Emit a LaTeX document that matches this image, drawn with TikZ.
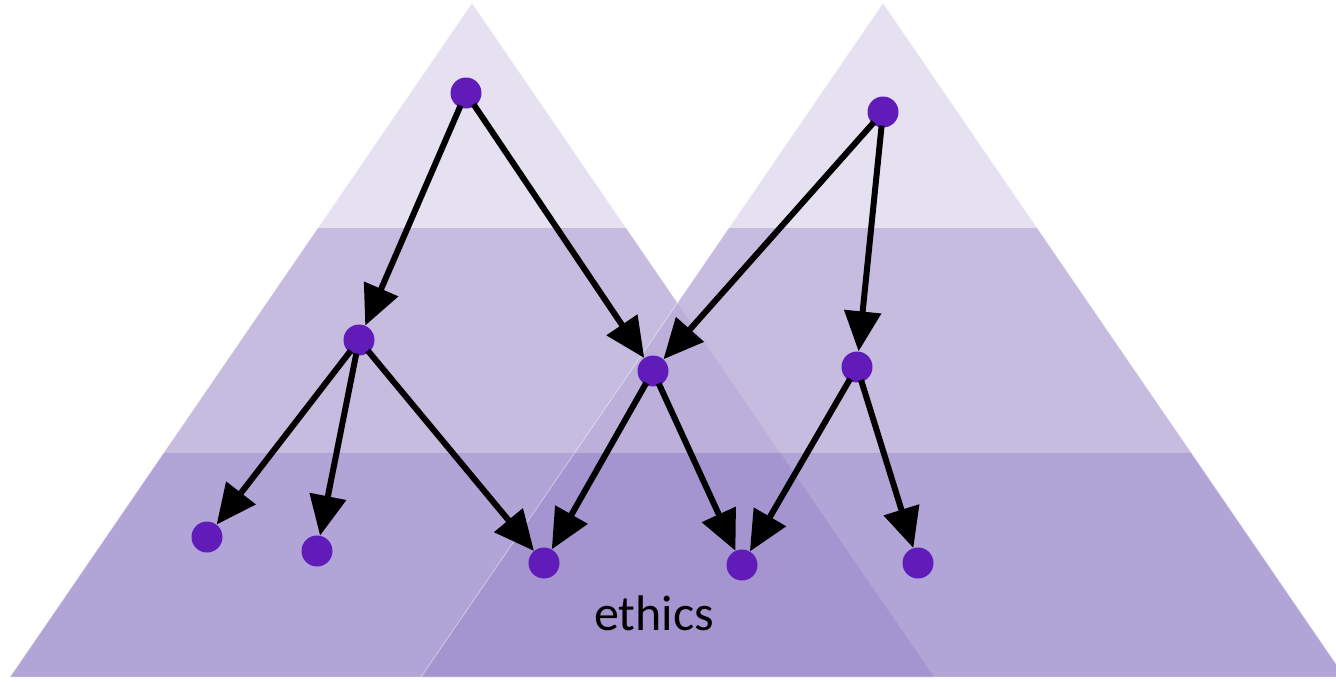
\documentclass[tikz,border=0pt]{standalone}
\usepackage{fontspec}
\setmainfont{Carlito}
\usetikzlibrary{arrows.meta}

\definecolor{bandtop}{RGB}{225,219,238}
\definecolor{bandmid}{RGB}{186,174,218}
\definecolor{bandlow}{RGB}{161,145,206}
\definecolor{dotpurple}{RGB}{97,27,184}

\begin{document}
\begin{tikzpicture}[x=1pt,y=-1pt]
\tikzset{
  vertex/.style={circle,fill=dotpurple,inner sep=0pt,minimum size=31pt},
  edge/.style={black,line width=6pt,-{Triangle[length=40pt,width=36pt]},shorten <=-2pt},
  band/.style={fill opacity=0.83}
}
\useasboundingbox (0,0) rectangle (1336,681);
% the two pyramids
\foreach \ax in {472,883} {
  \fill [band,bandtop] (\ax,3) -- ({\ax+154.2},228) -- ({\ax-154.2},228) -- cycle;
  \fill [band,bandmid] ({\ax-154.2},228) -- ({\ax+154.2},228) -- ({\ax+308.5},453) -- ({\ax-308.5},453) -- cycle;
  \fill [band,bandlow] ({\ax-308.5},453) -- ({\ax+308.5},453) -- ({\ax+462},677) -- ({\ax-462},677) -- cycle;
  \draw [white,line width=0.8pt,draw opacity=0.45] (\ax,3) -- ({\ax+462},677) -- ({\ax-462},677) -- cycle;
}
% nodes
\node [vertex] (a) at (466,93) {};
\node [vertex] (b) at (883,112) {};
\node [vertex] (c) at (359,340) {};
\node [vertex] (d) at (653,371) {};
\node [vertex] (e) at (857,367) {};
\node [vertex] (f) at (207,537) {};
\node [vertex] (g) at (317,551) {};
\node [vertex] (h) at (544,563) {};
\node [vertex] (i) at (742,565) {};
\node [vertex] (j) at (918,563) {};
\node (ethics) at (654,613) {\fontsize{50}{55}\selectfont ethics};
% arrows
\draw [edge] (a) -- (c);
\draw [edge] (a) -- (d);
\draw [edge] (b) -- (d);
\draw [edge] (b) -- (e);
\draw [edge] (c) -- (f);
\draw [edge] (c) -- (g);
\draw [edge] (c) -- (h);
\draw [edge] (d) -- (h);
\draw [edge] (d) -- (i);
\draw [edge] (e) -- (i);
\draw [edge] (e) -- (j);
\end{tikzpicture}
\end{document}
